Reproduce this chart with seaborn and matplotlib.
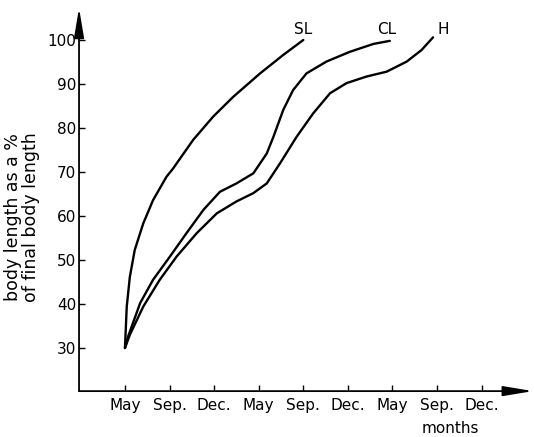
import pandas as pd
import matplotlib
matplotlib.use("Agg")
import matplotlib.pyplot as plt
import seaborn as sns

# Month tick labels (equally spaced on the original chart)
months = ["May", "Sep.", "Dec.", "May", "Sep.", "Dec.", "May", "Sep.", "Dec."]

# Growth curves: x = month tick index, y = % of final length
sl_x = [0, 0.04, 0.11, 0.22, 0.41, 0.63, 0.93, 1.08, 1.53, 1.98, 2.43, 3.03, 3.55, 4.00]
sl_y = [30, 39.4, 46.2, 52.3, 58.3, 63.6, 68.9, 70.8, 77.3, 82.6, 87.1, 92.4, 96.6, 100]

cl_x = [0, 0.07, 0.34, 0.63, 1.01, 1.38, 1.76, 2.13, 2.50, 2.88, 3.18, 3.33, 3.55,
        3.77, 4.07, 4.52, 5.04, 5.57, 5.94]
cl_y = [30, 32.6, 40.2, 45.5, 50.8, 56.1, 61.4, 65.5, 67.4, 69.7, 74.2, 78.0, 84.1,
        88.6, 92.4, 95.1, 97.3, 99.1, 99.8]

h_x = [0, 0.11, 0.41, 0.78, 1.16, 1.61, 2.06, 2.50, 2.88, 3.18, 3.48, 3.85, 4.22,
       4.60, 4.97, 5.42, 5.87, 6.32, 6.65, 6.91]
h_y = [30, 33, 39.4, 45.5, 50.8, 56.1, 60.6, 63.3, 65.2, 67.4, 72, 78, 83.3,
       87.9, 90.2, 91.7, 92.8, 95.1, 97.7, 100.6]

df = pd.concat([
    pd.DataFrame({"month": sl_x, "length": sl_y, "curve": "SL"}),
    pd.DataFrame({"month": cl_x, "length": cl_y, "curve": "CL"}),
    pd.DataFrame({"month": h_x, "length": h_y, "curve": "H"}),
], ignore_index=True)

sns.set_style("white")
plt.rcParams["font.family"] = ["DejaVu Sans"]
plt.rcParams["text.color"] = "black"
plt.rcParams["axes.labelcolor"] = "black"
plt.rcParams["xtick.color"] = "black"
plt.rcParams["ytick.color"] = "black"

fig = plt.figure(figsize=(5.34, 4.37), dpi=100)
ax = fig.add_axes([0.148, 0.105, 0.850, 0.877])

sns.lineplot(data=df, x="month", y="length", hue="curve", units="curve",
             estimator=None, sort=False, palette=["black"] * 3,
             linewidth=1.7, legend=False, ax=ax)

# Curve labels at the end of each line
ax.text(4.0, 102.3, "SL", ha="center", va="center", fontsize=11)
ax.text(5.87, 102.3, "CL", ha="center", va="center", fontsize=11)
ax.text(7.13, 102.3, "H", ha="center", va="center", fontsize=11)

ax.set_xlim(-1.03, 9.15)
ax.set_ylim(20.2, 107.3)
ax.set_xticks(range(len(months)))
ax.set_xticklabels(months)
ax.set_yticks(range(30, 101, 10))

ax.tick_params(axis="x", bottom=True, direction="in", length=4, width=1, pad=5, labelsize=11)
ax.tick_params(axis="y", left=True, direction="in", length=4, width=1, pad=2, labelsize=11)

# Axes drawn as arrows
for s in ax.spines.values():
    s.set_visible(False)
arrow = dict(arrowstyle="-|>,head_length=1.8,head_width=0.3", color="black",
             lw=1.3, mutation_scale=10, shrinkA=0, shrinkB=0)
ax.annotate("", xy=(1, 0), xytext=(0, 0), xycoords="axes fraction", arrowprops=arrow)
ax.annotate("", xy=(0, 1), xytext=(0, 0), xycoords="axes fraction", arrowprops=arrow)

ax.set_ylabel("body length as a %\nof final body length", fontsize=12.5,
              linespacing=1.0, va="center")
ax.yaxis.set_label_coords(-0.126, 0.454)
ax.set_xlabel("months", fontsize=11, va="center")
ax.xaxis.set_label_coords(0.819, -0.097)

plt.savefig("out.png", dpi=100)
